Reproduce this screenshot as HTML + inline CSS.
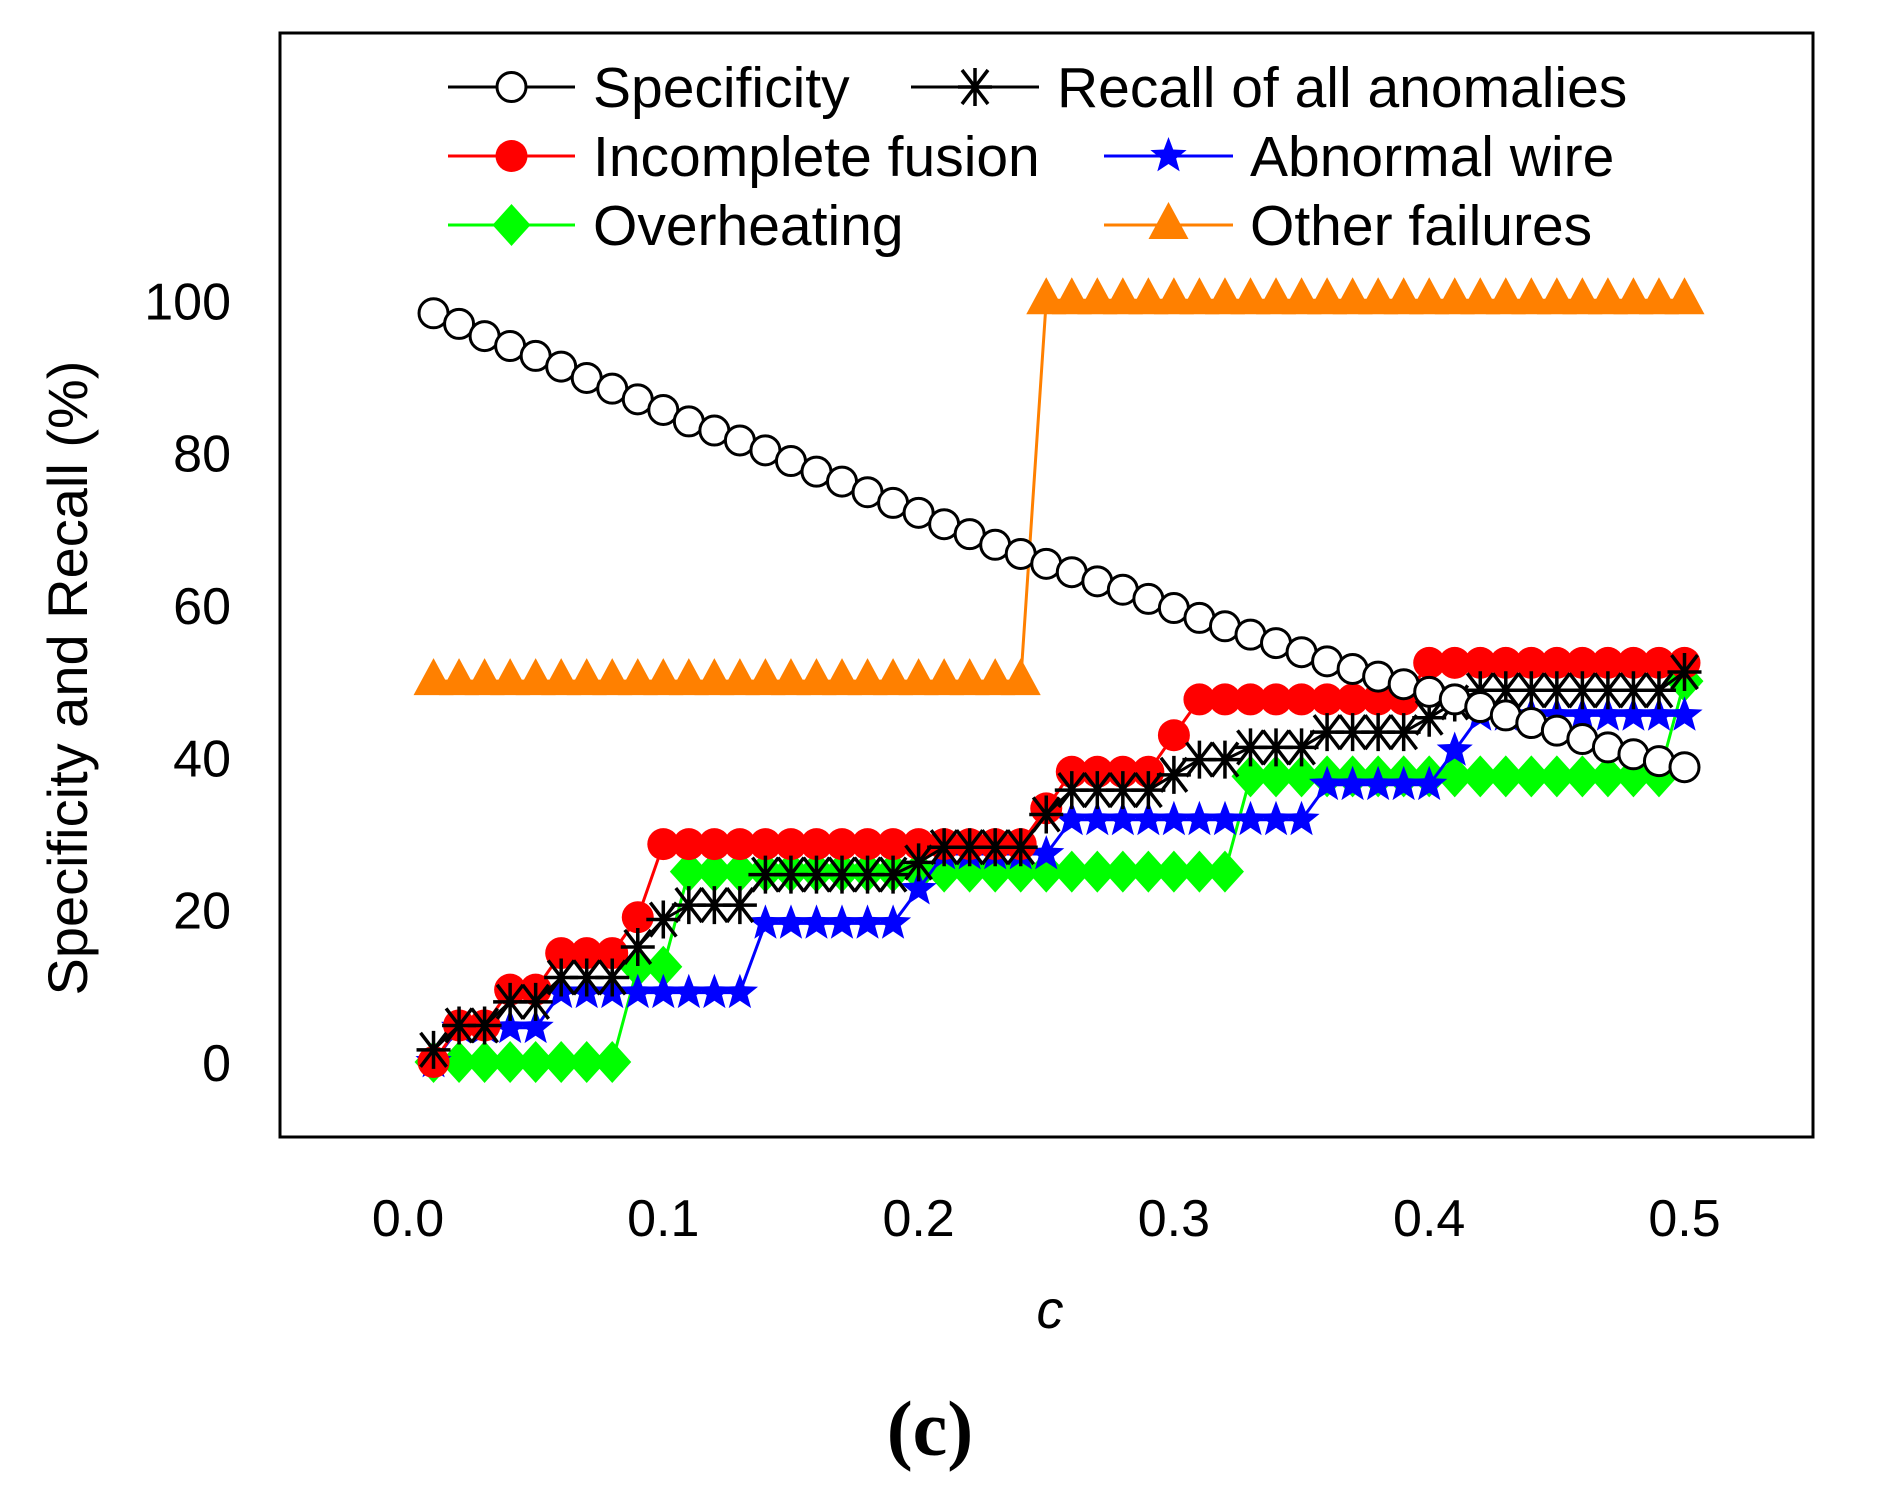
<!DOCTYPE html>
<html><head><meta charset="utf-8"><style>
body{margin:0;background:#fff}
svg text{font-family:"Liberation Sans",sans-serif}
</style></head><body>
<svg id="chart" width="1899" height="1498" viewBox="0 0 1899 1498" xmlns="http://www.w3.org/2000/svg">
<rect x="280" y="33" width="1533" height="1104" fill="none" stroke="#000" stroke-width="3"/>
<g id="marks"></g>
<g id="axes"></g>
<text x="87" y="678" transform="rotate(-90 87 678)" text-anchor="middle" font-size="56">Specificity and Recall (%)</text>
<text x="1050" y="1328" text-anchor="middle" font-size="54" font-style="italic">c</text>
<text x="930" y="1455" text-anchor="middle" font-size="78" font-weight="bold" style="font-family:'Liberation Serif',serif">(c)</text>
<g id="legend"></g>
</svg>
<script>
const cVals=[];for(let i=1;i<=50;i++)cVals.push(i/100);
const specificity=[98.3,96.9,95.3,94,92.7,91.3,89.8,88.4,87,85.6,84.1,82.9,81.6,80.3,78.9,77.5,76.2,74.8,73.4,72.1,70.6,69.3,67.9,66.7,65.4,64.3,63.1,62,60.8,59.6,58.3,57.2,56.1,55,53.8,52.6,51.6,50.6,49.6,48.6,47.6,46.6,45.5,44.5,43.5,42.4,41.3,40.4,39.5,38.7];
const recallAll=[1.6,4.8,4.8,7.9,7.9,11.1,11.1,11.1,15.1,18.7,20.6,20.6,20.6,24.6,24.6,24.6,24.6,24.6,24.6,26.2,28.2,28.2,28.2,28.2,32.5,35.7,35.7,35.7,35.7,37.7,39.7,39.7,41.3,41.3,41.3,43.3,43.3,43.3,43.3,45.2,47.2,48.8,48.8,48.8,48.8,48.8,48.8,48.8,48.8,51.2];
const incompleteFusion=[0,4.8,4.8,9.5,9.5,14.3,14.3,14.3,19,28.6,28.6,28.6,28.6,28.6,28.6,28.6,28.6,28.6,28.6,28.6,28.6,28.6,28.6,28.6,33.3,38.1,38.1,38.1,38.1,42.9,47.6,47.6,47.6,47.6,47.6,47.6,47.6,47.6,47.6,52.4,52.4,52.4,52.4,52.4,52.4,52.4,52.4,52.4,52.4,52.4];
const abnormalWire=[0,4.5,4.5,4.5,4.5,9.1,9.1,9.1,9.1,9.1,9.1,9.1,9.1,18.2,18.2,18.2,18.2,18.2,18.2,22.7,27.3,27.3,27.3,27.3,27.3,31.8,31.8,31.8,31.8,31.8,31.8,31.8,31.8,31.8,31.8,36.4,36.4,36.4,36.4,36.4,40.9,45.5,45.5,45.5,45.5,45.5,45.5,45.5,45.5,45.5];
const overheating=[0,0,0,0,0,0,0,0,12.5,12.5,25,25,25,25,25,25,25,25,25,25,25,25,25,25,25,25,25,25,25,25,25,25,37.5,37.5,37.5,37.5,37.5,37.5,37.5,37.5,37.5,37.5,37.5,37.5,37.5,37.5,37.5,37.5,37.5,50];
const otherFailures=[50,50,50,50,50,50,50,50,50,50,50,50,50,50,50,50,50,50,50,50,50,50,50,50,100,100,100,100,100,100,100,100,100,100,100,100,100,100,100,100,100,100,100,100,100,100,100,100,100,100];
const xTicks=[0,0.1,0.2,0.3,0.4,0.5];
const xTickLabels=["0.0","0.1","0.2","0.3","0.4","0.5"];
const yTicks=[0,20,40,60,80,100];

const NS="http://www.w3.org/2000/svg";
const X=c=>408+c*2553, Y=v=>1062-v*7.617;
function mk(tag,attrs,parent){const e=document.createElementNS(NS,tag);for(const k in attrs)e.setAttribute(k,attrs[k]);parent.appendChild(e);return e;}
function marker(type,x,y,color,g){
  let e;
  if(type==='circle'){e=mk('circle',{cx:x,cy:y,r:14.5,fill:'#fff',stroke:'#000','stroke-width':3},g);}
  else if(type==='dot'){e=mk('circle',{cx:x,cy:y,r:16,fill:color},g);}
  else if(type==='tri'){e=mk('polygon',{points:`${x},${y-23} ${x-20},${y+14} ${x+20},${y+14}`,fill:color},g);}
  else if(type==='diamond'){e=mk('polygon',{points:`${x},${y-21} ${x+19},${y} ${x},${y+21} ${x-19},${y}`,fill:color},g);}
  else if(type==='star'){let p=[];for(let i=0;i<10;i++){const r=i%2?8:19,a=-Math.PI/2+i*Math.PI/5;p.push((x+r*Math.cos(a)).toFixed(1)+','+(y+r*Math.sin(a)).toFixed(1));}e=mk('polygon',{points:p.join(' '),fill:color},g);}
  else if(type==='ast'){e=mk('path',{d:`M${x-17},${y}h34M${x},${y-19}v38M${x-13},${y-17}l26,34M${x+13},${y-17}l-26,34`,stroke:'#000','stroke-width':3.5,fill:'none'},g);}
  return e;
}
const series=[
 {name:'other-failures',vals:otherFailures,color:'#ff8000',type:'tri'},
 {name:'overheating',vals:overheating,color:'#00ff00',type:'diamond'},
 {name:'abnormal-wire',vals:abnormalWire,color:'#0000ff',type:'star'},
 {name:'incomplete-fusion',vals:incompleteFusion,color:'#ff0000',type:'dot'},
 {name:'recall-all',vals:recallAll,color:'#000',type:'ast'},
 {name:'specificity',vals:specificity,color:'#000',type:'circle'}
];
const marks=document.getElementById('marks');
series.forEach(s=>{
  const g=mk('g',{},marks);
  
  
  const pl=mk('polyline',{points:s.vals.map((v,i)=>X(cVals[i])+','+Y(v)).join(' '),fill:'none',stroke:s.color,'stroke-width':3},g);
  
  
  s.vals.forEach((v,i)=>{const m=marker(s.type,X(cVals[i]),Y(v),s.color,g);
    
    });
});
const axes=document.getElementById('axes');
xTicks.forEach((t,i)=>{const e=mk('text',{x:X(t),y:1236,'text-anchor':'middle','font-size':52},axes);e.textContent=xTickLabels[i];
  
  });
yTicks.forEach(t=>{const e=mk('text',{x:231,y:Y(t)+19,'text-anchor':'end','font-size':52},axes);e.textContent=t;
  
  });
const leg=document.getElementById('legend');
const items=[
 ['Specificity','circle','#000',448,575,593,87],
 ['Recall of all anomalies','ast','#000',911,1039,1057,87],
 ['Incomplete fusion','dot','#ff0000',448,575,593,156],
 ['Abnormal wire','star','#0000ff',1104,1233,1250,156],
 ['Overheating','diamond','#00ff00',448,575,593,225],
 ['Other failures','tri','#ff8000',1104,1233,1250,225]
];
items.forEach(it=>{
  const g=mk('g',{},leg);
  
  
  mk('line',{x1:it[3],x2:it[4],y1:it[6],y2:it[6],stroke:it[2],'stroke-width':3},g);
  marker(it[1],(it[3]+it[4])/2,it[6],it[2],g);
  const t=mk('text',{x:it[5],y:it[6]+20,'font-size':57},g);t.textContent=it[0];
});
</script>
</body></html>
